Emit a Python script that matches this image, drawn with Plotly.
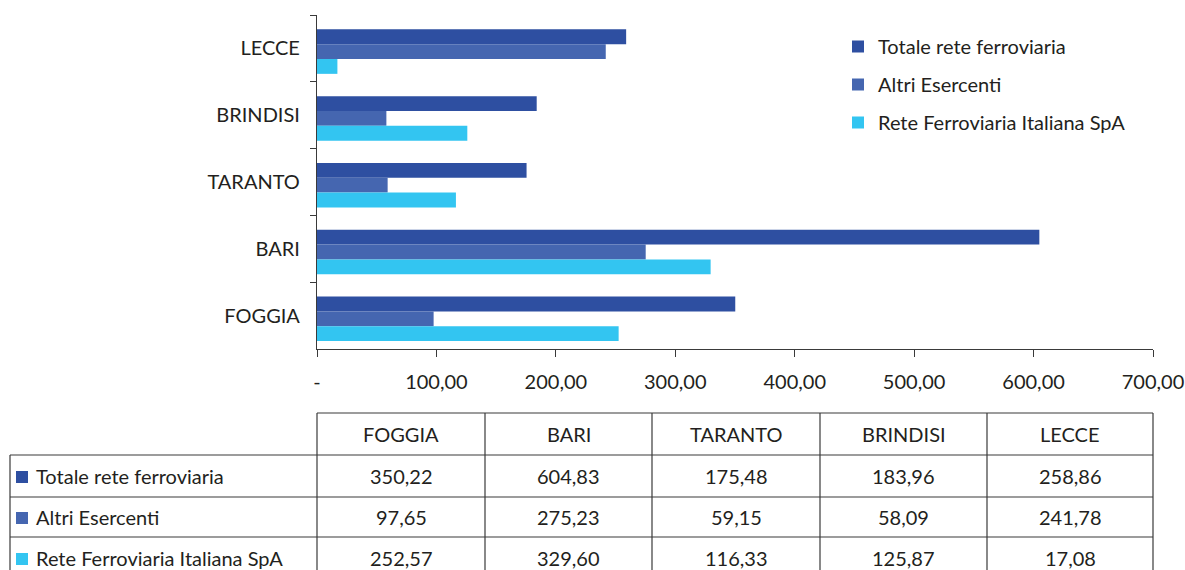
import plotly.graph_objects as go

categories = ["LECCE", "BRINDISI", "TARANTO", "BARI", "FOGGIA"]
table_categories = ["FOGGIA", "BARI", "TARANTO", "BRINDISI", "LECCE"]
series_names = ["Totale rete ferroviaria", "Altri Esercenti", "Rete Ferroviaria Italiana SpA"]
totale = {"FOGGIA": 350.22, "BARI": 604.83, "TARANTO": 175.48, "BRINDISI": 183.96, "LECCE": 258.86}
altri = {"FOGGIA": 97.65, "BARI": 275.23, "TARANTO": 59.15, "BRINDISI": 58.09, "LECCE": 241.78}
rfi = {"FOGGIA": 252.57, "BARI": 329.60, "TARANTO": 116.33, "BRINDISI": 125.87, "LECCE": 17.08}
tick_values = [0, 100, 200, 300, 400, 500, 600, 700]
tick_labels = ["-", "100,00", "200,00", "300,00", "400,00", "500,00", "600,00", "700,00"]

colors = ["#2E4FA1", "#4566B0", "#33C5F1"]
series = [totale, altri, rfi]
FONT = "Lato"
FS = 20
TXT = "#231F20"
LINE = "#3a3a3a"

W, H = 1185, 570
# plot area in pixels
px_left, px_right, py_top, py_bottom = 317, 1153, 15, 349
# table geometry in pixels
tab_left = 10
col_edges = [317, 485, 652, 820, 987, 1153]
row_edges = [413, 455, 497, 537, 579]

# bar thickness and group start (category units), slightly below band centre as in the reference
BAR_W = 0.222
GROUP_START = -0.285


def fx(px):
    return px / W


def fy(py):
    return 1 - py / H


fig = go.Figure()
for k, (name, data, col) in enumerate(zip(series_names, series, colors)):
    fig.add_trace(go.Bar(
        y=categories, x=[data[c] for c in categories], name=name, orientation="h",
        marker=dict(color=col, line=dict(width=0)), legendgroup=name,
        width=BAR_W, offset=GROUP_START + k * BAR_W,
    ))


def fmt(v):
    return f"{v:.2f}".replace(".", ",")


shapes = []
annotations = []
lw = dict(color=LINE, width=1.2)
# horizontal lines
shapes.append(dict(type="line", xref="paper", yref="paper", x0=fx(col_edges[0]), x1=fx(col_edges[-1]),
                   y0=fy(row_edges[0]), y1=fy(row_edges[0]), line=lw))
for r in row_edges[1:]:
    shapes.append(dict(type="line", xref="paper", yref="paper", x0=fx(tab_left), x1=fx(col_edges[-1]),
                       y0=fy(r), y1=fy(r), line=lw))
# vertical lines
shapes.append(dict(type="line", xref="paper", yref="paper", x0=fx(tab_left), x1=fx(tab_left),
                   y0=fy(row_edges[1]), y1=fy(row_edges[-1]), line=lw))
for c in col_edges:
    shapes.append(dict(type="line", xref="paper", yref="paper", x0=fx(c), x1=fx(c),
                       y0=fy(row_edges[0]), y1=fy(row_edges[-1]), line=lw))

# header texts
for i, cat in enumerate(table_categories):
    xc = (col_edges[i] + col_edges[i + 1]) / 2
    yc = (row_edges[0] + row_edges[1]) / 2
    annotations.append(dict(xref="paper", yref="paper", x=fx(xc), y=fy(yc), text=cat, showarrow=False,
                            xanchor="center", yanchor="middle", font=dict(family=FONT, size=FS, color=TXT)))
# rows
for r, (name, data, col) in enumerate(zip(series_names, series, colors)):
    yc = (row_edges[r + 1] + row_edges[r + 2]) / 2
    shapes.append(dict(type="rect", xref="paper", yref="paper", x0=fx(16), x1=fx(28),
                       y0=fy(yc - 5), y1=fy(yc + 7), fillcolor=col, line=dict(width=0)))
    annotations.append(dict(xref="paper", yref="paper", x=fx(34), y=fy(yc), text=name, showarrow=False,
                            xanchor="left", yanchor="middle", font=dict(family=FONT, size=FS, color=TXT)))
    for i, cat in enumerate(table_categories):
        xc = (col_edges[i] + col_edges[i + 1]) / 2
        annotations.append(dict(xref="paper", yref="paper", x=fx(xc), y=fy(yc), text=fmt(data[cat]),
                                showarrow=False, xanchor="center", yanchor="middle",
                                font=dict(family=FONT, size=FS, color=TXT)))

fig.update_layout(
    width=W, height=H,
    margin=dict(l=0, r=0, t=0, b=0, pad=0, autoexpand=False),
    paper_bgcolor="white", plot_bgcolor="white",
    barmode="group",
    font=dict(family=FONT, size=FS, color=TXT),
    showlegend=True,
    legend=dict(x=fx(838), y=fy(27), xanchor="left", yanchor="top",
                font=dict(family=FONT, size=FS, color=TXT), tracegroupgap=9,
                bgcolor="rgba(0,0,0,0)", itemclick=False, itemdoubleclick=False),
    xaxis=dict(domain=[fx(px_left), fx(px_right)], range=[0, 700], tickvals=tick_values,
               ticktext=tick_labels, showgrid=False, zeroline=False, showline=True,
               linecolor=LINE, linewidth=1.2, ticks="outside", ticklen=7, tickcolor=LINE,
               ticklabelstandoff=8, tickfont=dict(family=FONT, size=FS, color=TXT),
               fixedrange=True, automargin=False),
    yaxis=dict(domain=[fy(py_bottom), fy(py_top)], autorange="reversed", showgrid=False,
               showline=True, linecolor=LINE, linewidth=1.2, ticks="outside", ticklen=6,
               tickcolor=LINE, tickson="boundaries", ticklabelstandoff=12,
               tickfont=dict(family=FONT, size=FS, color=TXT), fixedrange=True, automargin=False),
    shapes=shapes,
    annotations=annotations,
)

fig.write_html("out.html", config={"displayModeBar": False},
               post_script="document.body.style.margin='0';document.body.style.overflow='hidden';")
